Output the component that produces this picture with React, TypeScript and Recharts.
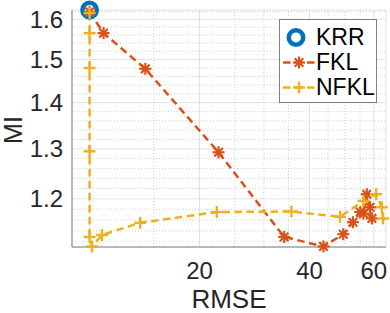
import React from 'react';
import { ComposedChart, Line, XAxis, YAxis, CartesianGrid, ReferenceLine } from 'recharts';

// values (log-log axes)
const krrRmse = [10.0];
const krrMi = [1.624];

const fklRmse = [10.0, 10.92, 14.21, 22.54, 34.1, 43.7, 49.5, 52.6, 55.1, 56.2, 57.4, 58.6, 59.3];
const fklMi = [1.619, 1.565, 1.478, 1.293, 1.129, 1.112, 1.134, 1.156, 1.175, 1.172, 1.209, 1.184, 1.163];

const nfklRmse = [10.0, 10.0, 10.0, 10.0, 10.0, 10.15, 10.81, 13.76, 22.3, 35.7, 48.5, 56.2, 60.9, 63.1, 63.6];
const nfklMi = [1.616, 1.565, 1.48, 1.295, 1.129, 1.112, 1.1325, 1.155, 1.175, 1.176, 1.166, 1.196, 1.209, 1.184, 1.163];

const xTicks = [20, 40, 60];
const yTicks = [1.2, 1.3, 1.4, 1.5, 1.6];
const xMinor = [10, 15, 25, 30, 35, 45, 50, 55];
const yMinor = [1.12, 1.14, 1.16, 1.18, 1.22, 1.24, 1.26, 1.28, 1.32, 1.34, 1.36, 1.38, 1.42, 1.44, 1.46, 1.48, 1.52, 1.54, 1.56, 1.58, 1.62];

const toRows = (xs: number[], ys: number[]) => xs.map((x, i) => ({ rmse: x, mi: ys[i] }));
const krrData = toRows(krrRmse, krrMi);
const fklData = toRows(fklRmse, fklMi);
const nfklData = toRows(nfklRmse, nfklMi);

const BLUE = '#0072BD';
const ORANGE = '#D95319';
const YELLOW = '#EDB120';
const TEXT = '#262626';
const FONT = '"Liberation Sans", Arial, Helvetica, sans-serif';
const X_DOMAIN = [8.95, 64.8];
const Y_DOMAIN = [1.111, 1.624];

const Ring = ({ cx, cy }: any) => (
  <circle cx={cx} cy={cy} r={7.2} fill="none" stroke={BLUE} strokeWidth={4.5} />
);

const Star = ({ cx, cy }: any) => {
  const r = 6, d = 4.3;
  return (
    <g stroke={ORANGE} strokeWidth={2.2}>
      <line x1={cx - r} y1={cy} x2={cx + r} y2={cy} />
      <line x1={cx} y1={cy - r} x2={cx} y2={cy + r} />
      <line x1={cx - d} y1={cy - d} x2={cx + d} y2={cy + d} />
      <line x1={cx - d} y1={cy + d} x2={cx + d} y2={cy - d} />
    </g>
  );
};

const Plus = ({ cx, cy }: any) => (
  <g stroke={YELLOW} strokeWidth={2.4}>
    <line x1={cx - 6} y1={cy} x2={cx + 6} y2={cy} />
    <line x1={cx} y1={cy - 6} x2={cx} y2={cy + 6} />
  </g>
);

const legendItems = [
  { name: 'KRR', kind: 'ring' },
  { name: 'FKL', kind: 'star' },
  { name: 'NFKL', kind: 'plus' },
];

const LegendBox = () => (
  <div style={{ position: 'absolute', left: 279, top: 19, width: 96, height: 77, border: '1px solid #7f7f7f', background: '#fff', paddingTop: 5 }}>
    {legendItems.map((it) => (
      <div key={it.name} style={{ height: 25, display: 'flex', alignItems: 'center' }}>
        <svg width={34} height={25} style={{ marginLeft: 2 }}>
          {it.kind !== 'ring' && (
            <line x1={1} y1={12.5} x2={33} y2={12.5} stroke={it.kind === 'star' ? ORANGE : YELLOW} strokeWidth={2.5} strokeDasharray="7.5 4.5" />
          )}
          {it.kind === 'ring' && <Ring cx={14} cy={12.5} />}
          {it.kind === 'star' && <Star cx={17} cy={12.5} />}
          {it.kind === 'plus' && <Plus cx={17} cy={12.5} />}
        </svg>
        <span style={{ fontFamily: FONT, fontSize: 23, color: '#000', lineHeight: '25px' }}>{it.name}</span>
      </div>
    ))}
  </div>
);

export default function App() {
  return (
    <div style={{ position: 'absolute', left: 0, top: 0, width: 390, height: 313 }}>
      <ComposedChart width={390} height={313} margin={{ top: 10, right: 4, bottom: 0, left: 8 }}>
        <CartesianGrid stroke="#e2e2e2" strokeWidth={1} />
        {xMinor.map((v) => (
          <ReferenceLine key={'x' + v} x={v} stroke="#cfcfcf" strokeDasharray="1 2" ifOverflow="hidden" />
        ))}
        {yMinor.map((v) => (
          <ReferenceLine key={'y' + v} y={v} stroke="#cfcfcf" strokeDasharray="1 2" ifOverflow="hidden" />
        ))}
        <XAxis
          dataKey="rmse"
          type="number"
          scale="log"
          domain={X_DOMAIN}
          ticks={xTicks}
          height={66}
          tickSize={0}
          tickMargin={15}
          tickLine={false}
          axisLine={{ stroke: '#7f7f7f' }}
          tick={{ fill: TEXT, fontSize: 24, fontFamily: FONT }}
          label={{
            content: () => (
              <text x={229} y={308} textAnchor="middle" fill={TEXT} fontSize={26} fontFamily={FONT}>RMSE</text>
            ),
          }}
        />
        <XAxis xAxisId="top" orientation="top" dataKey="rmse" type="number" scale="log" domain={X_DOMAIN} height={0} tick={false} tickLine={false} axisLine={{ stroke: '#7f7f7f' }} />
        <YAxis
          dataKey="mi"
          type="number"
          scale="log"
          domain={Y_DOMAIN}
          ticks={yTicks}
          width={64}
          tickSize={0}
          tickMargin={9}
          tickLine={false}
          axisLine={{ stroke: '#7f7f7f' }}
          tickFormatter={(v: number) => v.toFixed(1)}
          tick={{ fill: TEXT, fontSize: 24, fontFamily: FONT }}
          label={{
            content: () => (
              <text x={22} y={130} transform="rotate(-90 22 130)" textAnchor="middle" fill={TEXT} fontSize={25} fontFamily={FONT}>MI</text>
            ),
          }}
        />
        <YAxis yAxisId="right" orientation="right" type="number" scale="log" domain={Y_DOMAIN} width={0} tick={false} tickLine={false} axisLine={{ stroke: '#7f7f7f' }} />
        <Line data={krrData} dataKey="mi" stroke="none" dot={<Ring />} activeDot={false} isAnimationActive={false} legendType="none" />
        <Line data={fklData} dataKey="mi" stroke={ORANGE} strokeWidth={2.5} strokeDasharray="7.5 4.5" dot={<Star />} activeDot={false} isAnimationActive={false} legendType="none" />
        <Line data={nfklData} dataKey="mi" stroke={YELLOW} strokeWidth={2.5} strokeDasharray="7.5 4.5" dot={<Plus />} activeDot={false} isAnimationActive={false} legendType="none" />
      </ComposedChart>
      <LegendBox />
    </div>
  );
}
